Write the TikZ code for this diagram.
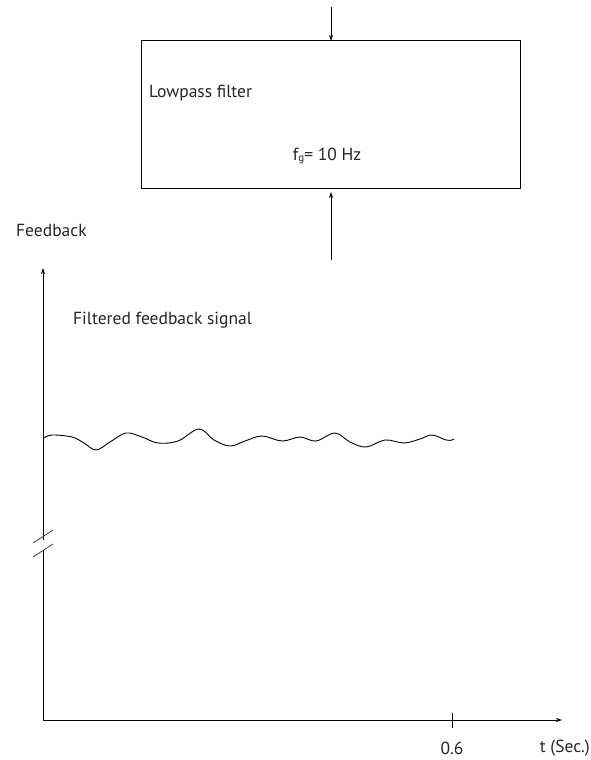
\documentclass[tikz,border=0pt]{standalone}
\usepackage{fontspec}
\setmainfont{PT Sans}
\usetikzlibrary{arrows.meta}
\begin{document}
\begin{tikzpicture}[x=1pt,y=-1pt,
  line/.style={line width=0.9pt,black},
  tip/.style={-{Stealth[length=6pt,width=4pt]}},
  lbl/.style={font=\fontsize{17.5}{20}\selectfont,text=black!85,inner sep=0pt},
  brk/.style={line width=0.8pt,black!75}]
\useasboundingbox (0,0) rectangle (591,760);
% filter box
\node[draw,line width=0.9pt,minimum width=379pt,minimum height=148pt,inner sep=0pt] (box) at (330.5,114) {};
\node[lbl,anchor=west] (lp) at (149,93) {Lowpass filter};
\node[lbl] (fg) at (327,156) {f\raisebox{-1.5pt}{\fontsize{11}{11}\selectfont g}= 10 Hz};
\coordinate (inTop) at (331,7);
\coordinate (inBot) at (331,260);
\coordinate (boxTopIn) at (331,41);
\coordinate (boxBotIn) at (331,192);
\draw[line,tip] (inTop) -- (boxTopIn);
\draw[line,tip] (inBot) -- (boxBotIn);
% labels
\node[lbl,anchor=west] (fb) at (16,230) {Feedback};
\node[lbl,anchor=west] (ffs) at (73,320) {Filtered feedback signal};
% axes
\coordinate (O) at (43,720);
\coordinate (yTop) at (43,268);
\coordinate (xEnd) at (562,720);
\coordinate (bUp) at (43,540);
\coordinate (bLo) at (43,550);
\draw[line,tip] (bUp) -- (yTop);
\draw[line] (O) -- (bLo);
\draw[line,tip] (O) -- (xEnd);
\draw[brk] (33,543) -- (53,530);
\draw[brk] (33,557) -- (53,544);
% tick
\coordinate (tk1) at (452,713);
\coordinate (tk2) at (452,728);
\draw[line] (tk1) -- (tk2);
\node[lbl] (six) at (452,748) {0.6};
\node[lbl,anchor=east] (tsec) at (590,748) {t (Sec.)};
% wavy signal
\draw[line width=0.9pt] plot[smooth,tension=0.6] coordinates {
 (44,438) (52,435) (72,437) (84,443) (96,450) (110,442) (126,433) (142,437) (158,443) (178,441) (199,429)
 (214,440) (230,446) (245,441) (262,436) (282,441) (300,437) (316,441) (335,433)
 (350,442) (366,447) (385,440) (404,443) (420,439) (432,435) (446,440) (452,440) (454,439)};
\end{tikzpicture}
\end{document}
